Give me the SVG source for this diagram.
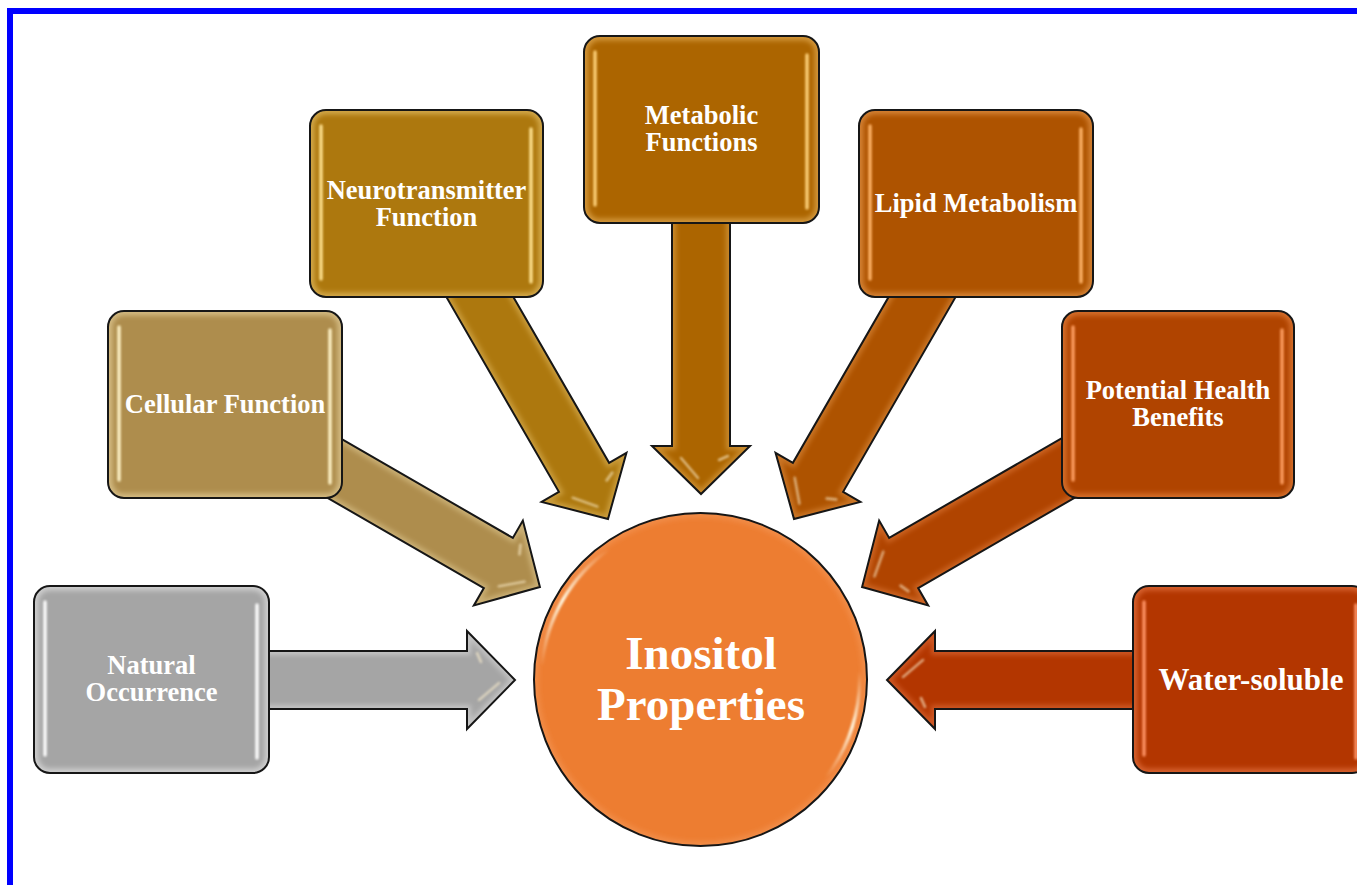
<svg xmlns="http://www.w3.org/2000/svg" xmlns:xlink="http://www.w3.org/1999/xlink" width="1357" height="885" viewBox="0 0 1357 885">
  <style>
    .box { stroke: none; }
    .outline { fill: none; stroke: #161616; stroke-width: 2; }
    .rim { fill: none; stroke-width: 9; stroke-opacity: 0.45; }
    .shine { fill: none; stroke-width: 3.5; stroke-linecap: round; stroke-opacity: 0.95; }
    .lbl { font-family: "Liberation Serif", "Times New Roman", serif; font-weight: bold; font-size: 26.5px; fill: #ffffff; text-anchor: middle; }
    .lbl-big { font-size: 31px; }
    .hub { font-family: "Liberation Serif", "Times New Roman", serif; font-weight: bold; font-size: 47px; fill: #ffffff; text-anchor: middle; }
    .streak { fill: none; stroke: #fff2d0; stroke-width: 2.5; stroke-linecap: round; stroke-opacity: 0.6; }
  </style>
  <defs>
    <filter id="blurSoft" filterUnits="userSpaceOnUse" x="-600" y="-600" width="2600" height="2200">
      <feGaussianBlur stdDeviation="0.8"/>
    </filter>
    <filter id="blurRim" x="-10%" y="-10%" width="120%" height="120%">
      <feGaussianBlur stdDeviation="2.5"/>
    </filter>
    <clipPath id="boxClip" clipPathUnits="objectBoundingBox">
      <rect x="0" y="0" width="1" height="1" rx="0.068" ry="0.086"/>
    </clipPath>
    <clipPath id="roundClip" clipPathUnits="objectBoundingBox">
      <circle cx="0.5" cy="0.5" r="0.5"/>
    </clipPath>
    <!-- block arrow pointing down at the hub; rotated about the hub centre -->
    <polygon id="arrowShape" points="672,210 730,210 730,446 750,446 701,494 652,446 672,446"/>
    <clipPath id="arrowClip">
      <use xlink:href="#arrowShape"/>
    </clipPath>
    <linearGradient id="arcFadeL" gradientUnits="userSpaceOnUse" x1="542" y1="666" x2="609" y2="549">
      <stop offset="0" stop-color="#fff4dc" stop-opacity="0"/>
      <stop offset="0.5" stop-color="#fff4dc" stop-opacity="1"/>
      <stop offset="1" stop-color="#fff4dc" stop-opacity="0"/>
    </linearGradient>
    <linearGradient id="arcFadeR" gradientUnits="userSpaceOnUse" x1="859" y1="671" x2="826" y2="777">
      <stop offset="0" stop-color="#fff4dc" stop-opacity="0"/>
      <stop offset="0.5" stop-color="#fff4dc" stop-opacity="1"/>
      <stop offset="1" stop-color="#fff4dc" stop-opacity="0"/>
    </linearGradient>
  </defs>

  <rect x="0" y="0" width="1357" height="885" fill="#ffffff"/>
  <!-- frame -->
  <rect x="10" y="11" width="1400" height="920" fill="none" stroke="#0000ff" stroke-width="6"/>

  <!-- connectors -->
  <g id="connectors">
    <g id="arrow-natural" transform="rotate(-90 701 680)">
      <use xlink:href="#arrowShape" fill="#A5A5A5"/>
      <use xlink:href="#arrowShape" clip-path="url(#arrowClip)" fill="none" stroke="#ffffff" stroke-opacity="0.35" stroke-width="8" filter="url(#blurRim)"/>
      <use xlink:href="#arrowShape" class="outline"/>
      <path class="streak" d="M681,458 L698,478" filter="url(#blurSoft)"/>
      <path class="streak" d="M728,456 L719,460" filter="url(#blurSoft)"/>
    </g>
    <g id="arrow-cellular" transform="rotate(-60 701 680)">
      <use xlink:href="#arrowShape" fill="#AE8D4D"/>
      <use xlink:href="#arrowShape" clip-path="url(#arrowClip)" fill="none" stroke="#fff0c0" stroke-opacity="0.35" stroke-width="8" filter="url(#blurRim)"/>
      <use xlink:href="#arrowShape" class="outline"/>
      <path class="streak" d="M681,458 L698,478" filter="url(#blurSoft)"/>
      <path class="streak" d="M728,456 L719,460" filter="url(#blurSoft)"/>
    </g>
    <g id="arrow-neuro" transform="rotate(-30 701 680)">
      <use xlink:href="#arrowShape" fill="#AD780E"/>
      <use xlink:href="#arrowShape" clip-path="url(#arrowClip)" fill="none" stroke="#ffe090" stroke-opacity="0.35" stroke-width="8" filter="url(#blurRim)"/>
      <use xlink:href="#arrowShape" class="outline"/>
      <path class="streak" d="M681,458 L698,478" filter="url(#blurSoft)"/>
      <path class="streak" d="M728,456 L719,460" filter="url(#blurSoft)"/>
    </g>
    <g id="arrow-metabolic">
      <use xlink:href="#arrowShape" fill="#AC6500"/>
      <use xlink:href="#arrowShape" clip-path="url(#arrowClip)" fill="none" stroke="#ffd080" stroke-opacity="0.35" stroke-width="8" filter="url(#blurRim)"/>
      <use xlink:href="#arrowShape" class="outline"/>
      <path class="streak" d="M681,458 L698,478" filter="url(#blurSoft)"/>
      <path class="streak" d="M728,456 L719,460" filter="url(#blurSoft)"/>
    </g>
    <g id="arrow-lipid" transform="rotate(30 701 680)">
      <use xlink:href="#arrowShape" fill="#AE5300"/>
      <use xlink:href="#arrowShape" clip-path="url(#arrowClip)" fill="none" stroke="#ffb870" stroke-opacity="0.35" stroke-width="8" filter="url(#blurRim)"/>
      <use xlink:href="#arrowShape" class="outline"/>
      <path class="streak" d="M681,458 L698,478" filter="url(#blurSoft)"/>
      <path class="streak" d="M728,456 L719,460" filter="url(#blurSoft)"/>
    </g>
    <g id="arrow-potential" transform="rotate(60 701 680)">
      <use xlink:href="#arrowShape" fill="#B04400"/>
      <use xlink:href="#arrowShape" clip-path="url(#arrowClip)" fill="none" stroke="#ffa060" stroke-opacity="0.35" stroke-width="8" filter="url(#blurRim)"/>
      <use xlink:href="#arrowShape" class="outline"/>
      <path class="streak" d="M681,458 L698,478" filter="url(#blurSoft)"/>
      <path class="streak" d="M728,456 L719,460" filter="url(#blurSoft)"/>
    </g>
    <g id="arrow-water" transform="rotate(90 701 680)">
      <use xlink:href="#arrowShape" fill="#B33600"/>
      <use xlink:href="#arrowShape" clip-path="url(#arrowClip)" fill="none" stroke="#ff9466" stroke-opacity="0.35" stroke-width="8" filter="url(#blurRim)"/>
      <use xlink:href="#arrowShape" class="outline"/>
      <path class="streak" d="M681,458 L698,478" filter="url(#blurSoft)"/>
      <path class="streak" d="M728,456 L719,460" filter="url(#blurSoft)"/>
    </g>
  </g>

  <!-- hub -->
  <g id="hub">
    <circle cx="700.5" cy="679.5" r="166.5" fill="#ED7D31"/>
    <circle cx="700.5" cy="679.5" r="166.5" fill="none" stroke="#f7a36a" stroke-width="9" stroke-opacity="0.4" clip-path="url(#roundClip)" filter="url(#blurRim)"/>
    <path d="M542.1,665.6 A159,159 0 0 1 609.3,549.2" fill="none" stroke="url(#arcFadeL)" stroke-width="3.5" stroke-linecap="round" filter="url(#blurSoft)"/>
    <path d="M859.3,671.2 A159,159 0 0 1 825.8,777.4" fill="none" stroke="url(#arcFadeR)" stroke-width="3.5" stroke-linecap="round" filter="url(#blurSoft)"/>
    <circle cx="700.5" cy="679.5" r="166.5" class="outline"/>
    <text class="hub" x="701" y="669">Inositol<tspan x="701" y="720">Properties</tspan></text>
  </g>

  <!-- nodes -->
  <g id="node-natural">
    <rect class="box" x="34" y="586" width="235" height="187" rx="16" fill="#A5A5A5"/>
    <rect class="rim" x="34" y="586" width="235" height="187" rx="16" stroke="#ffffff" clip-path="url(#boxClip)" filter="url(#blurRim)"/>
    <line class="shine" x1="45" y1="602" x2="45" y2="755" stroke="#ffffff" filter="url(#blurSoft)"/>
    <line class="shine" x1="257" y1="605" x2="257" y2="758" stroke="#ffffff" filter="url(#blurSoft)"/>
    <rect class="outline" x="34" y="586" width="235" height="187" rx="16"/>
    <text class="lbl" x="151.5" y="674">Natural<tspan x="151.5" y="701">Occurrence</tspan></text>
  </g>

  <g id="node-cellular">
    <rect class="box" x="108" y="311" width="234" height="187" rx="16" fill="#AE8D4D"/>
    <rect class="rim" x="108" y="311" width="234" height="187" rx="16" stroke="#fff0c0" clip-path="url(#boxClip)" filter="url(#blurRim)"/>
    <line class="shine" x1="119" y1="327" x2="119" y2="480" stroke="#fff3c8" filter="url(#blurSoft)"/>
    <line class="shine" x1="330" y1="330" x2="330" y2="483" stroke="#fff3c8" filter="url(#blurSoft)"/>
    <rect class="outline" x="108" y="311" width="234" height="187" rx="16"/>
    <text class="lbl" x="225" y="413">Cellular Function</text>
  </g>

  <g id="node-neuro">
    <rect class="box" x="310" y="110" width="233" height="187" rx="16" fill="#AD780E"/>
    <rect class="rim" x="310" y="110" width="233" height="187" rx="16" stroke="#ffe090" clip-path="url(#boxClip)" filter="url(#blurRim)"/>
    <line class="shine" x1="321" y1="126" x2="321" y2="279" stroke="#ffe391" filter="url(#blurSoft)"/>
    <line class="shine" x1="531" y1="129" x2="531" y2="282" stroke="#ffe391" filter="url(#blurSoft)"/>
    <rect class="outline" x="310" y="110" width="233" height="187" rx="16"/>
    <text class="lbl" x="426.5" y="199">Neurotransmitter<tspan x="426.5" y="226">Function</tspan></text>
  </g>

  <g id="node-metabolic">
    <rect class="box" x="584" y="36" width="235" height="187" rx="16" fill="#AC6500"/>
    <rect class="rim" x="584" y="36" width="235" height="187" rx="16" stroke="#ffd080" clip-path="url(#boxClip)" filter="url(#blurRim)"/>
    <line class="shine" x1="595" y1="52" x2="595" y2="205" stroke="#ffd27a" filter="url(#blurSoft)"/>
    <line class="shine" x1="807" y1="55" x2="807" y2="208" stroke="#ffd27a" filter="url(#blurSoft)"/>
    <rect class="outline" x="584" y="36" width="235" height="187" rx="16"/>
    <text class="lbl" x="701.5" y="124">Metabolic<tspan x="701.5" y="151">Functions</tspan></text>
  </g>

  <g id="node-lipid">
    <rect class="box" x="859" y="110" width="234" height="187" rx="16" fill="#AE5300"/>
    <rect class="rim" x="859" y="110" width="234" height="187" rx="16" stroke="#ffb870" clip-path="url(#boxClip)" filter="url(#blurRim)"/>
    <line class="shine" x1="870" y1="126" x2="870" y2="279" stroke="#ffb56a" filter="url(#blurSoft)"/>
    <line class="shine" x1="1081" y1="129" x2="1081" y2="282" stroke="#ffb56a" filter="url(#blurSoft)"/>
    <rect class="outline" x="859" y="110" width="234" height="187" rx="16"/>
    <text class="lbl" x="976" y="212">Lipid Metabolism</text>
  </g>

  <g id="node-potential">
    <rect class="box" x="1062" y="311" width="232" height="187" rx="16" fill="#B04400"/>
    <rect class="rim" x="1062" y="311" width="232" height="187" rx="16" stroke="#ffa060" clip-path="url(#boxClip)" filter="url(#blurRim)"/>
    <line class="shine" x1="1073" y1="327" x2="1073" y2="480" stroke="#ff9f62" filter="url(#blurSoft)"/>
    <line class="shine" x1="1282" y1="330" x2="1282" y2="483" stroke="#ff9f62" filter="url(#blurSoft)"/>
    <rect class="outline" x="1062" y="311" width="232" height="187" rx="16"/>
    <text class="lbl" x="1178" y="399">Potential Health<tspan x="1178" y="426">Benefits</tspan></text>
  </g>

  <g id="node-water">
    <rect class="box" x="1133" y="586" width="235" height="187" rx="16" fill="#B33600"/>
    <rect class="rim" x="1133" y="586" width="235" height="187" rx="16" stroke="#ff9466" clip-path="url(#boxClip)" filter="url(#blurRim)"/>
    <line class="shine" x1="1144" y1="602" x2="1144" y2="755" stroke="#ff9466" filter="url(#blurSoft)"/>
    <line class="shine" x1="1356" y1="605" x2="1356" y2="758" stroke="#ff9466" filter="url(#blurSoft)"/>
    <rect class="outline" x="1133" y="586" width="235" height="187" rx="16"/>
    <text class="lbl lbl-big" x="1251" y="690">Water-soluble</text>
  </g>
</svg>
